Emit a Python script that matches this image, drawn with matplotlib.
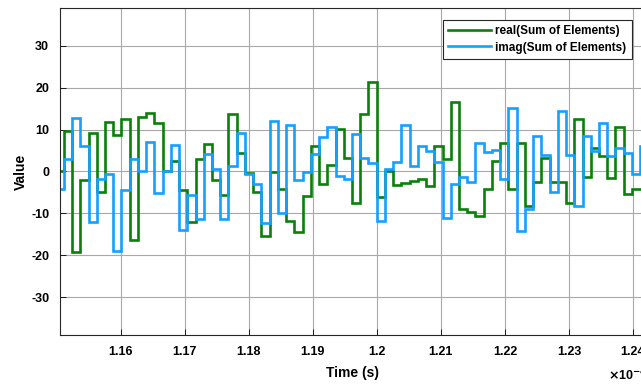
import numpy as np
import matplotlib
matplotlib.use("Agg")
import matplotlib.pyplot as plt

plt.rcParams['font.family'] = ['Liberation Sans', 'DejaVu Sans']
plt.rcParams['font.weight'] = 'bold'
plt.rcParams['axes.unicode_minus'] = False

# sample grid (x in units of 1e-4 s)
t_start = 1.14985
dt = 0.0012855

# real part, one value per sample
real_vals = [0, 9.7, -19.3, -2, 9.1, -5, 11.9, 8.8, 12.5, -16.3,
             12.9, 14, 11.5, 0, 2.5, -4.4, -12.1, 2.9, 6.5, -2.1,
             -5.6, 13.8, 4.4, -0.4, -5, -15.3, -0.2, -4.2, -11.7, -14.4,
             -5.8, 6, -3, 1.5, 10.1, 3.3, -7.5, 13.6, 21.3, -6.2,
             0.2, -3.3, -2.8, -2.2, -1.8, -3.4, 6, 2.9, 16.6, -9,
             -9.6, -10.7, -4.2, 2.5, 6.9, -4.2, 6.9, -8.3, -2.5, 3.3,
             -2.6, -2.6, -7.5, 12.5, -1.4, 5.6, 3.7, -1.6, 10.7, -5.4,
             -4.2, -4.2]

# imaginary part
imag_vals = [-4.2, 3.1, 12.7, 6, -12, -1.7, -0.7, -19, -4.4, 3.1,
             0, 7.1, -5.2, 0, 6.3, -13.9, -5.6, -11.3, 4.1, 0.7,
             -11.3, 1.3, 9.3, -0.6, -3, -12.3, 12.1, -9.9, 11, -2,
             -0.2, 4.1, 8.3, 10.7, -1, -1.7, 8.9, 3.3, 2.1, -11.9,
             0.7, 2.3, 11, 1.2, 6, 4.9, 2.3, -11, -3, -1.2,
             -2.6, 6.9, 4.7, 5.2, -1.7, 15.2, -14.1, -9, 8.5, 3.9,
             -5, 14.4, 3.9, -8.2, 8.5, 5, 11.6, 3.7, 5.7, 4.4,
             -0.6, 6]

xticks = [1.16, 1.17, 1.18, 1.19, 1.2, 1.21, 1.22, 1.23, 1.24]
xticklabels = ['1.16', '1.17', '1.18', '1.19', '1.2', '1.21', '1.22', '1.23', '1.24']
yticks = [-30, -20, -10, 0, 10, 20, 30]

edges = t_start + dt * np.arange(len(real_vals) + 1)

fig = plt.figure(figsize=(6.41, 3.86), dpi=100)
ax = fig.add_axes([0.0941, 0.1321, 0.912, 0.8472])

ax.stairs(real_vals, edges, baseline=None, color='#0a800a', lw=1.9,
          label='real(Sum of Elements)')
ax.stairs(imag_vals, edges, baseline=None, color='#13a0ff', lw=1.9,
          label='imag(Sum of Elements)')

ax.set_xlim(1.15059, 1.24186)
ax.set_ylim(-39, 39)
ax.set_xticks(xticks)
ax.set_xticklabels(xticklabels)
ax.set_yticks(yticks)
ax.tick_params(direction='in', length=4, labelsize=9, width=0.6, pad=8)
ax.grid(True, color='#a8a8a8', lw=0.8)
ax.set_axisbelow(True)
for s in ax.spines.values():
    s.set_linewidth(0.8)
    s.set_color('#262626')

ax.set_xlabel('Time (s)', fontsize=10, fontweight='bold', labelpad=6)
ax.set_ylabel('Value', fontsize=10, fontweight='bold', labelpad=2)
fig.text(608 / 641, 1 - 383 / 386, r'$\times$10$^{-4}$', fontsize=9,
         ha='left', va='bottom')

leg = ax.legend(loc='upper right', bbox_to_anchor=(0.9777, 0.963),
                fontsize=8.5, handlelength=3.6, borderaxespad=0,
                fancybox=False, framealpha=1, edgecolor='#262626',
                borderpad=0.45, labelspacing=0.35, handletextpad=0.4)
leg.get_frame().set_linewidth(0.8)
for txt in leg.get_texts():
    txt.set_fontweight('bold')

fig.savefig('out.png', dpi=100)
